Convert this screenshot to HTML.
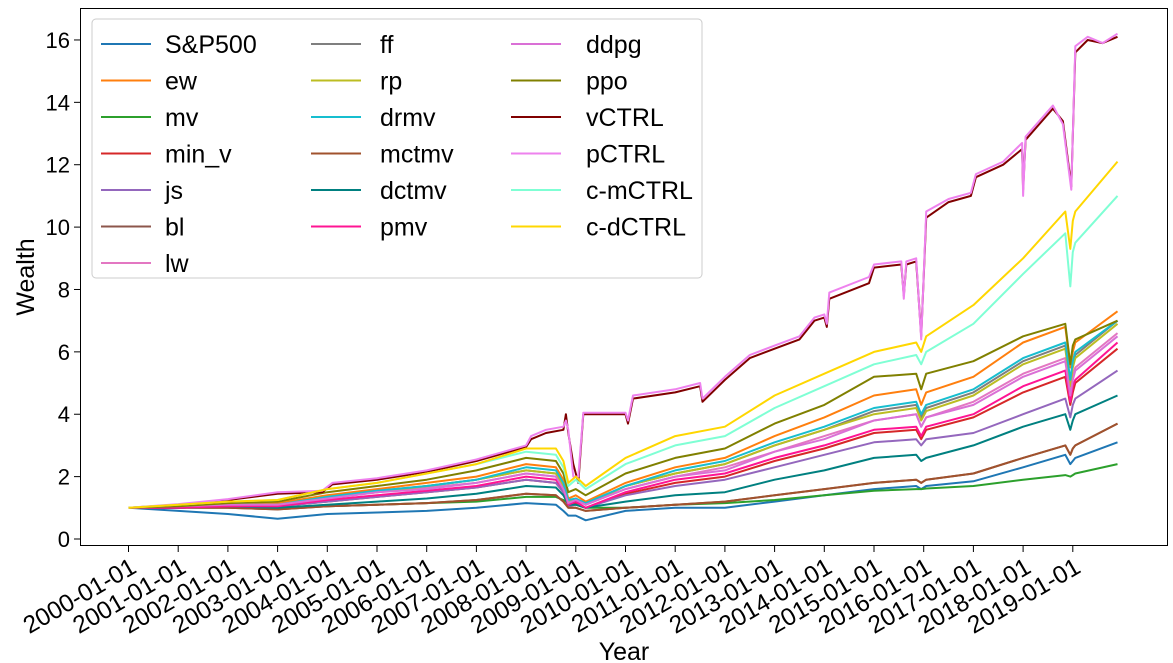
<!DOCTYPE html>
<html><head><meta charset="utf-8"><style>
html,body{margin:0;padding:0;background:#fff;}
svg{display:block;font-family:"Liberation Sans","DejaVu Sans",sans-serif;}
</style></head><body>
<svg id="chart" width="1173" height="663" viewBox="0 0 1173 663">
<rect x="0" y="0" width="1173" height="663" fill="#fff"/>
<g id="series"></g>
<rect x="80.5" y="8.5" width="1087" height="537" fill="none" stroke="#000" stroke-width="1"/>
<g id="axes"></g>
<text x="624" y="660" font-size="25" text-anchor="middle">Year</text>
<text transform="translate(34,277) rotate(-90)" font-size="25" text-anchor="middle">Wealth</text>
<g id="legend"></g>
</svg>
<script>
const dates=[2000,2001,2002,2003,2004,2005,2006,2007,2008,2008.6,2008.75,2008.85,2009.0,2009.2,2010,2011,2012,2013,2014,2015,2015.85,2015.95,2016.05,2017,2018,2018.85,2018.95,2019.0,2019.05,2019.9];
const ctrlDates=[2000,2001,2002,2003,2003.9,2004.1,2005,2006,2007,2008,2008.1,2008.4,2008.75,2008.8,2008.85,2008.95,2009.05,2009.15,2010.0,2010.05,2010.15,2011,2011.5,2011.55,2012,2012.5,2013,2013.5,2013.8,2014.0,2014.05,2014.1,2014.9,2015.0,2015.55,2015.6,2015.65,2015.85,2015.95,2016.05,2016.5,2016.95,2017.05,2017.6,2017.98,2018.0,2018.05,2018.6,2018.8,2018.97,2019.05,2019.3,2019.6,2019.9];
const names=["S&P500","ew","mv","min_v","js","bl","lw","ff","rp","drmv","mctmv","dctmv","pmv","ddpg","ppo","vCTRL","pCTRL","c-mCTRL","c-dCTRL"];
const colors=["#1f77b4","#ff7f0e","#2ca02c","#d62728","#9467bd","#8c564b","#e377c2","#7f7f7f","#bcbd22","#17becf","#a0522d","#008080","#ff1493","#da70d6","#808000","#800000","#ee82ee","#7fffd4","#ffd700"];
const sp500=[1,0.9,0.8,0.65,0.8,0.85,0.9,1.0,1.15,1.1,0.9,0.75,0.75,0.6,0.9,1.0,1.0,1.2,1.4,1.6,1.7,1.6,1.7,1.85,2.3,2.7,2.4,2.5,2.6,3.1];
const ew=[1,1.05,1.1,1.15,1.4,1.6,1.8,2.0,2.4,2.3,1.9,1.3,1.4,1.2,1.8,2.3,2.6,3.3,3.9,4.6,4.8,4.3,4.7,5.2,6.3,6.8,5.5,6.0,6.3,7.3];
const mv=[1,1.0,1.05,1.0,1.05,1.1,1.15,1.2,1.35,1.35,1.25,1.15,1.1,1.0,1.0,1.1,1.15,1.25,1.4,1.55,1.6,1.6,1.62,1.7,1.9,2.05,2.0,2.05,2.1,2.4];
const minV=[1,1.0,1.05,1.05,1.2,1.35,1.5,1.65,1.9,1.8,1.5,1.1,1.15,1.0,1.45,1.8,2.0,2.5,2.9,3.4,3.5,3.2,3.5,3.9,4.7,5.2,4.3,4.7,5.0,6.1];
const js=[1,1.0,1.05,1.05,1.2,1.35,1.5,1.65,1.9,1.8,1.5,1.05,1.1,1.0,1.4,1.7,1.9,2.3,2.7,3.1,3.2,3.0,3.2,3.4,4.0,4.5,3.9,4.3,4.5,5.4];
const bl=[1,1.0,1.0,0.95,1.05,1.1,1.15,1.25,1.45,1.4,1.2,1.0,1.0,0.9,1.0,1.1,1.2,1.4,1.6,1.8,1.9,1.8,1.9,2.1,2.6,3.0,2.7,2.9,3.0,3.7];
const lw=[1,1.05,1.1,1.1,1.3,1.5,1.65,1.8,2.1,2.0,1.6,1.15,1.25,1.1,1.6,2.0,2.3,2.8,3.3,3.8,4.0,3.6,3.9,4.4,5.3,5.8,4.7,5.2,5.5,6.6];
const ff=[1,1.05,1.1,1.1,1.35,1.55,1.7,1.9,2.2,2.1,1.7,1.2,1.3,1.1,1.7,2.1,2.4,3.0,3.5,4.1,4.3,3.9,4.2,4.7,5.7,6.2,5.0,5.6,5.9,7.0];
const rp=[1,1.05,1.1,1.1,1.35,1.5,1.7,1.9,2.2,2.1,1.7,1.2,1.3,1.1,1.7,2.1,2.4,3.0,3.5,4.0,4.2,3.8,4.1,4.6,5.6,6.1,4.9,5.5,5.8,6.9];
const drmv=[1,1.05,1.1,1.1,1.35,1.55,1.7,1.9,2.3,2.2,1.8,1.25,1.3,1.15,1.7,2.2,2.5,3.1,3.6,4.2,4.4,4.0,4.3,4.8,5.8,6.3,5.1,5.7,6.0,7.0];
const mctmv=[1,1.0,1.0,0.95,1.05,1.1,1.15,1.25,1.45,1.4,1.2,1.0,1.0,0.9,1.0,1.1,1.2,1.4,1.6,1.8,1.9,1.8,1.9,2.1,2.6,3.0,2.7,2.9,3.0,3.7];
const dctmv=[1,1.0,1.05,1.0,1.1,1.2,1.3,1.45,1.7,1.65,1.4,1.1,1.1,1.0,1.2,1.4,1.5,1.9,2.2,2.6,2.7,2.5,2.6,3.0,3.6,4.0,3.5,3.8,4.0,4.6];
const pmv=[1,1.0,1.05,1.05,1.25,1.4,1.55,1.7,2.0,1.9,1.6,1.1,1.2,1.0,1.5,1.9,2.1,2.6,3.0,3.5,3.6,3.3,3.6,4.0,4.9,5.4,4.4,4.9,5.1,6.3];
const ddpg=[1,1.05,1.1,1.1,1.3,1.5,1.6,1.8,2.1,2.0,1.6,1.15,1.25,1.1,1.6,2.0,2.2,2.8,3.2,3.8,4.0,3.6,3.9,4.3,5.2,5.7,4.6,5.1,5.4,6.5];
const ppo=[1,1.05,1.15,1.2,1.5,1.7,1.9,2.2,2.6,2.5,2.1,1.5,1.6,1.4,2.1,2.6,2.9,3.7,4.3,5.2,5.3,4.8,5.3,5.7,6.5,6.9,5.6,6.2,6.4,7.0];
const vCTRL=[1,1.1,1.25,1.45,1.5,1.75,1.9,2.15,2.5,2.95,3.2,3.4,3.5,4.0,3.4,2.4,1.8,4.0,4.0,3.7,4.5,4.7,4.9,4.4,5.1,5.8,6.1,6.4,7.0,7.1,6.8,7.7,8.2,8.7,8.8,7.8,8.8,8.9,6.5,10.3,10.8,11.0,11.6,12.0,12.5,11.2,12.8,13.8,13.4,11.3,15.6,16.0,15.9,16.1];
const pCTRL=[1,1.12,1.28,1.5,1.55,1.8,1.95,2.2,2.55,3.0,3.3,3.5,3.6,3.8,3.5,2.0,2.0,4.05,4.05,3.8,4.6,4.8,5.0,4.5,5.2,5.9,6.2,6.5,7.1,7.2,6.9,7.9,8.4,8.8,8.9,7.7,8.9,9.0,6.4,10.5,10.9,11.1,11.7,12.1,12.7,11.0,12.9,13.9,13.3,11.2,15.8,16.1,15.9,16.2];
const cmCTRL=[1,1.1,1.2,1.25,1.6,1.8,2.1,2.4,2.8,2.7,2.3,1.7,1.9,1.6,2.4,3.0,3.3,4.2,4.9,5.6,5.9,5.6,6.0,6.9,8.5,9.8,8.1,9.2,9.5,11.0];
const cdCTRL=[1,1.1,1.2,1.25,1.6,1.8,2.1,2.4,2.9,2.9,2.5,1.8,2.0,1.7,2.6,3.3,3.6,4.6,5.3,6.0,6.3,6.0,6.5,7.5,9.0,10.5,9.3,10.2,10.5,12.1];
const seriesVals=[sp500,ew,mv,minV,js,bl,lw,ff,rp,drmv,mctmv,dctmv,pmv,ddpg,ppo,vCTRL,pCTRL,cmCTRL,cdCTRL];
const yTicks=[0,2,4,6,8,10,12,14,16];
const xTicks=[2000,2001,2002,2003,2004,2005,2006,2007,2008,2009,2010,2011,2012,2013,2014,2015,2016,2017,2018,2019];

const NS="http://www.w3.org/2000/svg";
const xs=yr=>128.5+(yr-2000)*49.7;
const ys=v=>539-v*31.19;
const sg=document.getElementById('series');
seriesVals.forEach((vals,i)=>{
  const d=vals.length===ctrlDates.length?ctrlDates:dates;
  const p=document.createElementNS(NS,'polyline');
  p.setAttribute('points',vals.map((v,j)=>xs(d[j]).toFixed(1)+','+ys(v).toFixed(1)).join(' '));
  p.setAttribute('fill','none');p.setAttribute('stroke',colors[i]);p.setAttribute('stroke-width','2');
  p.setAttribute('stroke-linejoin','round');
  
  
  sg.appendChild(p);
});
const ax=document.getElementById('axes');
yTicks.forEach(t=>{
  const y=ys(t);
  const l=document.createElementNS(NS,'line');
  l.setAttribute('x1',74);l.setAttribute('x2',80);l.setAttribute('y1',y);l.setAttribute('y2',y);l.setAttribute('stroke','#000');
  
  
  ax.appendChild(l);
  const tx=document.createElementNS(NS,'text');
  tx.setAttribute('x',70);tx.setAttribute('y',y+8);tx.setAttribute('font-size','22');tx.setAttribute('text-anchor','end');
  tx.textContent=t;
  
  
  ax.appendChild(tx);
});
xTicks.forEach(t=>{
  const x=xs(t);
  const l=document.createElementNS(NS,'line');
  l.setAttribute('x1',x);l.setAttribute('x2',x);l.setAttribute('y1',546);l.setAttribute('y2',552);l.setAttribute('stroke','#000');
  
  
  ax.appendChild(l);
  const tx=document.createElementNS(NS,'text');
  tx.setAttribute('transform','translate('+(x+1)+',557) rotate(-30)');
  tx.setAttribute('font-size','24.5');tx.setAttribute('text-anchor','end');tx.setAttribute('dominant-baseline','hanging');
  tx.textContent=t+'-01-01';
  
  
  ax.appendChild(tx);
});
const lg=document.getElementById('legend');
const box=document.createElementNS(NS,'rect');
box.setAttribute('x',92);box.setAttribute('y',19);box.setAttribute('width',610);box.setAttribute('height',259);
box.setAttribute('rx',4);box.setAttribute('fill','#fff');box.setAttribute('fill-opacity','0.85');box.setAttribute('stroke','#ccc');


lg.appendChild(box);
const colX=[101,311,511];
const textX=[165,380,586];
names.forEach((n,i)=>{
  const c=i<7?0:(i<13?1:2);
  const r=i<7?i:(i<13?i-7:i-13);
  const y=44+r*36.5;
  const l=document.createElementNS(NS,'line');
  l.setAttribute('x1',colX[c]);l.setAttribute('x2',colX[c]+50);l.setAttribute('y1',y);l.setAttribute('y2',y);
  l.setAttribute('stroke',colors[i]);l.setAttribute('stroke-width','2');
  
  
  lg.appendChild(l);
  const tx=document.createElementNS(NS,'text');
  tx.setAttribute('x',textX[c]);tx.setAttribute('y',y+9);tx.setAttribute('font-size','25');
  tx.textContent=n;
  
  
  lg.appendChild(tx);
});
</script>
</body></html>
